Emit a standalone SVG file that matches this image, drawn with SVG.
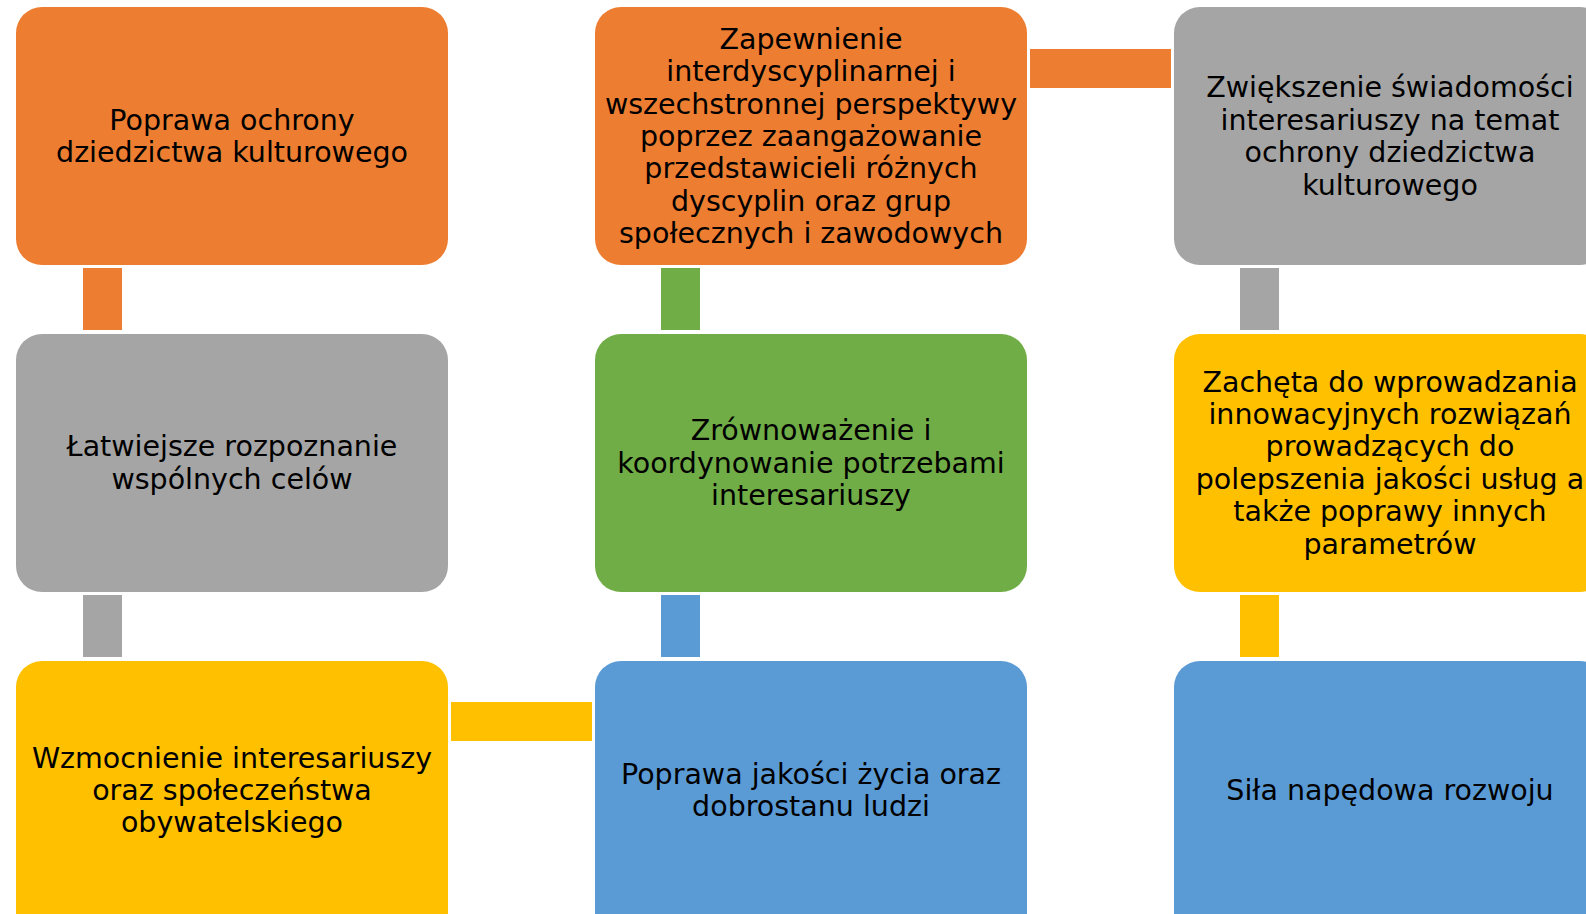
<svg xmlns="http://www.w3.org/2000/svg" width="1586" height="914" viewBox="0 0 1586 914">
<style>
.o{fill:#ED7D31}.g{fill:#A5A5A5}.y{fill:#FFC000}.b{fill:#5B9BD5}.gr{fill:#70AD47}
text{font-family:"DejaVu Sans","Open Sans",sans-serif;font-size:28.5px;fill:#000;text-anchor:middle}
</style>
<rect width="1586" height="914" fill="#fff"/>
<g id="connectors">
<rect class="o" x="83" y="268" width="39" height="62"/>
<rect class="g" x="83" y="595" width="39" height="62"/>
<rect class="y" x="451" y="702" width="141" height="39"/>
<rect class="gr" x="661" y="268" width="39" height="62"/>
<rect class="b" x="661" y="595" width="39" height="62"/>
<rect class="o" x="1030" y="49" width="141" height="39"/>
<rect class="g" x="1240" y="268" width="39" height="62"/>
<rect class="y" x="1240" y="595" width="39" height="62"/>
</g>
<g id="n1">
<rect class="o" x="16" y="7" width="432" height="258" rx="26"/>
<text y="129.8"><tspan x="232">Poprawa ochrony</tspan><tspan x="232" dy="32.4">dziedzictwa kulturowego</tspan></text>
</g>
<g id="n2">
<rect class="g" x="16" y="334" width="432" height="258" rx="26"/>
<text y="456.3"><tspan x="232">Łatwiejsze rozpoznanie</tspan><tspan x="232" dy="32.4">wspólnych celów</tspan></text>
</g>
<g id="n3">
<rect class="y" x="16" y="661" width="432" height="290" rx="26"/>
<text y="767.6"><tspan x="232">Wzmocnienie interesariuszy</tspan><tspan x="232" dy="32.4">oraz społeczeństwa</tspan><tspan x="232" dy="32.4">obywatelskiego</tspan></text>
</g>
<g id="n4">
<rect class="o" x="595" y="7" width="432" height="258" rx="26"/>
<text y="48.8"><tspan x="811">Zapewnienie</tspan><tspan x="811" dy="32.4">interdyscyplinarnej i</tspan><tspan x="811" dy="32.4">wszechstronnej perspektywy</tspan><tspan x="811" dy="32.4">poprzez zaangażowanie</tspan><tspan x="811" dy="32.4">przedstawicieli różnych</tspan><tspan x="811" dy="32.4">dyscyplin oraz grup</tspan><tspan x="811" dy="32.4">społecznych i zawodowych</tspan></text>
</g>
<g id="n5">
<rect class="gr" x="595" y="334" width="432" height="258" rx="26"/>
<text y="440.1"><tspan x="811">Zrównoważenie i</tspan><tspan x="811" dy="32.4">koordynowanie potrzebami</tspan><tspan x="811" dy="32.4">interesariuszy</tspan></text>
</g>
<g id="n6">
<rect class="b" x="595" y="661" width="432" height="290" rx="26"/>
<text y="783.8"><tspan x="811">Poprawa jakości życia oraz</tspan><tspan x="811" dy="32.4">dobrostanu ludzi</tspan></text>
</g>
<g id="n7">
<rect class="g" x="1174" y="7" width="432" height="258" rx="26"/>
<text y="97.4"><tspan x="1390">Zwiększenie świadomości</tspan><tspan x="1390" dy="32.4">interesariuszy na temat</tspan><tspan x="1390" dy="32.4">ochrony dziedzictwa</tspan><tspan x="1390" dy="32.4">kulturowego</tspan></text>
</g>
<g id="n8">
<rect class="y" x="1174" y="334" width="432" height="258" rx="26"/>
<text y="391.5"><tspan x="1390">Zachęta do wprowadzania</tspan><tspan x="1390" dy="32.4">innowacyjnych rozwiązań</tspan><tspan x="1390" dy="32.4">prowadzących do</tspan><tspan x="1390" dy="32.4">polepszenia jakości usług a</tspan><tspan x="1390" dy="32.4">także poprawy innych</tspan><tspan x="1390" dy="32.4">parametrów</tspan></text>
</g>
<g id="n9">
<rect class="b" x="1174" y="661" width="432" height="290" rx="26"/>
<text x="1390" y="800">Siła napędowa rozwoju</text>
</g>
</svg>
